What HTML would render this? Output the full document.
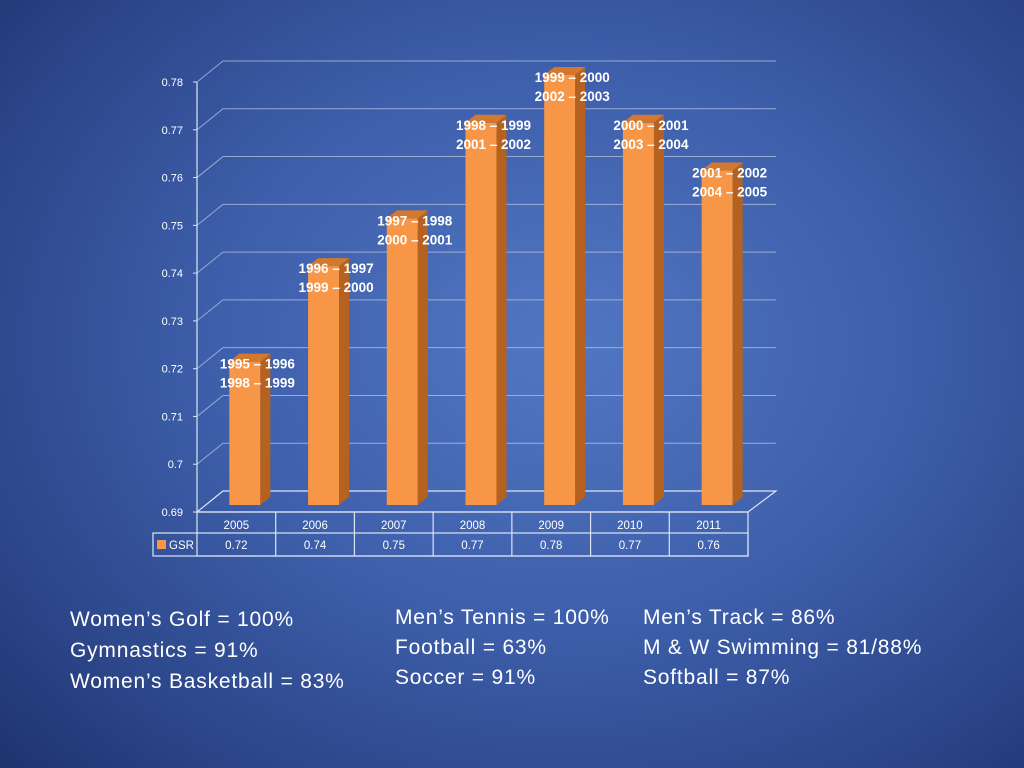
<!DOCTYPE html>
<html><head><meta charset="utf-8"><style>
html,body{margin:0;padding:0}
body{width:1024px;height:768px;overflow:hidden;background:radial-gradient(ellipse 75% 80% at 55% 45%,#5277c2 0%,#3e5fab 45%,#2b4588 80%,#1f3470 100%);font-family:"Liberation Sans",sans-serif;position:relative}
svg{position:absolute;left:0;top:0}
.t{position:absolute;color:#fff;font-size:21px;line-height:31px;letter-spacing:0.8px}
</style></head><body>
<svg id="chart" width="1024" height="768"></svg>
<div class="t" style="left:70px;top:604px">Women’s Golf = 100%<br>Gymnastics = 91%<br>Women’s Basketball = 83%</div>
<div class="t" style="left:395px;top:603px;line-height:30px">Men’s Tennis = 100%<br>Football = 63%<br>Soccer = 91%</div>
<div class="t" style="left:643px;top:603px;line-height:30px">Men’s Track = 86%<br>M &amp; W Swimming = 81/88%<br>Softball = 87%</div>
<script>
const categories=["2005","2006","2007","2008","2009","2010","2011"];
const values=[0.72,0.74,0.75,0.77,0.78,0.77,0.76];
const labelsTop=["1995 – 1996","1996 – 1997","1997 – 1998","1998 – 1999","1999 – 2000","2000 – 2001","2001 – 2002"];
const labelsBottom=["1998 – 1999","1999 – 2000","2000 – 2001","2001 – 2002","2002 – 2003","2003 – 2004","2004 – 2005"];
const ticks=[0.69,0.70,0.71,0.72,0.73,0.74,0.75,0.76,0.77,0.78];
const tickLabels=["0.69","0.7","0.71","0.72","0.73","0.74","0.75","0.76","0.77","0.78"];
const NS="http://www.w3.org/2000/svg";
const svg=document.getElementById('chart');
const X0=197,X1=748,DX=26,DY=21,YMIN=0.69,YMAX=0.78,Y0=512,Y1=82;
function yF(v){return Y0-(v-YMIN)/(YMAX-YMIN)*(Y0-Y1);}
const cw=(X1-X0)/categories.length;
function cx(i){return X0+cw*(i+0.5);}
function el(t,a,p){const e=document.createElementNS(NS,t);for(const k in a)e.setAttribute(k,a[k]);(p||svg).appendChild(e);return e;}
const grid=el('g',{});


ticks.forEach((t,i)=>{const y=yF(t);
 if(i>0){const l=el('polyline',{points:`${X0},${y} ${X0+DX},${y-DY} ${776},${y-DY}`,fill:'none',stroke:'#b8c4de','stroke-width':1,opacity:0.75},grid);}
 const tk=el('line',{x1:X0-4,y1:y,x2:X0,y2:y,stroke:'#dde4f4'});
 const tx=el('text',{x:X0-14,y:y+4,'text-anchor':'end',fill:'#fff','font-size':11,'font-family':'Liberation Sans, sans-serif'});tx.textContent=tickLabels[i];
});
const ax=el('line',{x1:X0,y1:yF(YMAX),x2:X0,y2:Y0,stroke:'#dde4f4','stroke-width':1.2});
const fl=el('polygon',{points:`${X0},${Y0} ${X0+DX},${Y0-DY} 776,${Y0-DY} ${X1},${Y0}`,fill:'none',stroke:'#dde4f4','stroke-width':1.2});
const bw=31,sd=10,sr=8;
values.forEach((v,i)=>{
 const g=el('g',{});
 const fx=cx(i)+8.5-bw/2,top=yF(v)-7,bot=Y0-7;
 el('rect',{x:fx,y:top,width:bw,height:bot-top,fill:'#f79646'},g);
 el('polygon',{points:`${fx+bw},${top} ${fx+bw+sd},${top-sr} ${fx+bw+sd},${bot-sr} ${fx+bw},${bot}`,fill:'#b5611f'},g);
 el('polygon',{points:`${fx},${top} ${fx+sd},${top-sr} ${fx+bw+sd},${top-sr} ${fx+bw},${top}`,fill:'#d2782f'},g);
 const lx=cx(i)+21;
 [labelsTop[i],labelsBottom[i]].forEach((s,k)=>{const t=el('text',{x:lx,y:top+7+k*19,'text-anchor':'middle',fill:'#fff','font-size':13.5,'font-weight':'bold','font-family':'Liberation Sans, sans-serif'});t.textContent=s;});
});
const tb=el('g',{});
const st={stroke:'#dde4f4','stroke-width':1.2,fill:'none'};
el('rect',Object.assign({x:X0,y:Y0,width:X1-X0,height:44},st),tb);
el('rect',Object.assign({x:153,y:533,width:X1-153,height:23},st),tb);
categories.forEach((c,i)=>{
 if(i>0)el('line',Object.assign({x1:X0+cw*i,y1:Y0,x2:X0+cw*i,y2:556},st),tb);
 const a=el('text',{x:cx(i),y:529,'text-anchor':'middle',fill:'#fff','font-size':11.5},tb);a.textContent=c;
 const b=el('text',{x:cx(i),y:549,'text-anchor':'middle',fill:'#fff','font-size':11.5},tb);b.textContent=values[i].toFixed(2);
});
const lk=el('rect',{x:157,y:540,width:9,height:9,fill:'#f79646'},tb);
const lt=el('text',{x:169,y:549,fill:'#fff','font-size':11.5},tb);lt.textContent='GSR';
</script>
</body></html>
